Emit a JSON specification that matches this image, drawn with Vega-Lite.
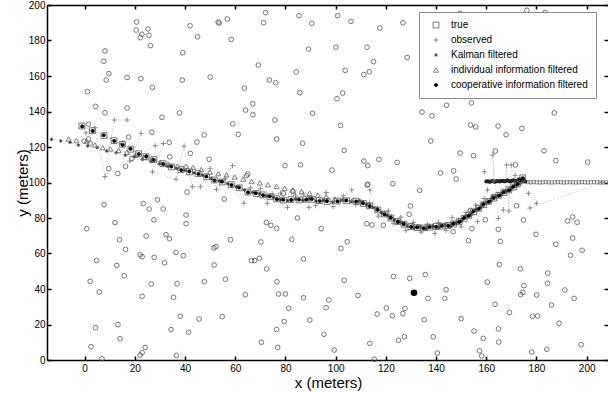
{
"$schema": "https://vega.github.io/schema/vega-lite/v6.json",
"width": 561, "height": 355,
"autosize": {"type": "none"},
"padding": {"left": 47, "top": 5, "right": 0, "bottom": 33},
"background": "white",
"config": {
  "view": {"stroke": null},
  "font": "Liberation Sans",
  "axis": {"domainColor": "black", "domainWidth": 1.5, "tickColor": "black", "tickWidth": 1.5, "tickSize": -4, "labelFont": "Liberation Sans", "labelFontSize": 10, "labelColor": "black", "titleFont": "Liberation Sans", "titleFontSize": 15, "titleFontWeight": "normal", "titleColor": "black", "grid": false}
},
"datasets": {
  "lm": [
    {"x":20.7,"y":190.4},{"x":20.5,"y":185.9},{"x":22.8,"y":183.5},{"x":22.2,"y":181.6},{"x":25.2,"y":186.5},{"x":25.6,"y":182.9},{"x":26.2,"y":177.1},{"x":8.1,"y":174.1},{"x":7.6,"y":168.3},{"x":9.7,"y":161.3},{"x":8.6,"y":157.7},{"x":16.9,"y":159.2},{"x":22.4,"y":158.5},{"x":27,"y":153.6},{"x":1.1,"y":151.2},{"x":4.4,"y":142.9},{"x":8.1,"y":139.3},{"x":16.9,"y":142},{"x":1.5,"y":132.8},{"x":30.8,"y":136.7},{"x":37.8,"y":139.2},{"x":38.9,"y":157.7},{"x":39.1,"y":173.1},{"x":42,"y":188.3},{"x":45,"y":182.1},{"x":53.2,"y":190.4},{"x":53.6,"y":189.8},{"x":56.8,"y":192.1},{"x":58.4,"y":180.6},{"x":50,"y":159.4},{"x":63.6,"y":153.2},{"x":69.2,"y":166.2},{"x":72.1,"y":195.7},{"x":71.3,"y":190},{"x":73.6,"y":157.7},{"x":76.1,"y":156.2},{"x":64.1,"y":140.8},{"x":67,"y":144.4},{"x":67,"y":138.2},{"x":75.8,"y":135.2},{"x":76.5,"y":124.5},{"x":59,"y":133.1},{"x":61.2,"y":127.1},{"x":47.6,"y":126.8},{"x":49.6,"y":113.1},{"x":26.8,"y":128.3},{"x":33.7,"y":122.6},{"x":44.7,"y":122.8},{"x":42.1,"y":116.4},{"x":33.9,"y":114.5},{"x":84.3,"y":162.3},{"x":85.7,"y":150.6},{"x":85.4,"y":194},{"x":79.8,"y":109.5},{"x":86,"y":110},{"x":65,"y":104.8},{"x":64.5,"y":103.8},{"x":40.8,"y":94.6},{"x":55.6,"y":90.7},{"x":29,"y":90.3},{"x":-0.2,"y":123.3},{"x":1.5,"y":124.5},{"x":2.2,"y":122.1},{"x":9.6,"y":107.8},{"x":13.2,"y":105.1},{"x":16.3,"y":109.1},{"x":17.5,"y":125.6},{"x":15.3,"y":122.1},{"x":18.8,"y":113.5},{"x":79.2,"y":93.9},{"x":82.9,"y":95},
    {"x":100.8,"y":194},{"x":90.5,"y":189.7},{"x":106.1,"y":190.8},{"x":117.6,"y":187},{"x":126.8,"y":190},{"x":149.6,"y":195.3},{"x":176.2,"y":197},{"x":183.4,"y":195.8},{"x":89.2,"y":175.2},{"x":100.1,"y":176.2},{"x":112.5,"y":176.2},{"x":115.1,"y":168.1},{"x":128.5,"y":170.4},{"x":103.8,"y":163.2},{"x":111.2,"y":160.8},{"x":113.4,"y":162.4},{"x":100.5,"y":147.2},{"x":102.8,"y":150.4},{"x":90.8,"y":139},{"x":101.9,"y":132.2},{"x":86.8,"y":122.1},{"x":103.4,"y":118.1},{"x":98.5,"y":107},{"x":111.2,"y":112.1},{"x":112.8,"y":109.5},{"x":117.2,"y":113},{"x":124.5,"y":111.3},{"x":112.8,"y":99},{"x":112.6,"y":98.6},{"x":122.8,"y":99.3},{"x":133.5,"y":95.6},{"x":134.4,"y":139.7},{"x":138.4,"y":137.6},{"x":144.2,"y":143.5},{"x":154.1,"y":144.8},{"x":169.7,"y":148.9},{"x":137.9,"y":123.4},{"x":153.7,"y":132.4},{"x":155.8,"y":131.3},{"x":164.7,"y":131.8},{"x":174.2,"y":130.5},{"x":167.9,"y":126.9},{"x":187.1,"y":139.2},{"x":149.6,"y":116.6},{"x":154.9,"y":115.1},{"x":141.8,"y":105.4},{"x":147,"y":106.6},{"x":148,"y":102},{"x":171.6,"y":109.9},{"x":183,"y":117.9},{"x":187.7,"y":112.3},{"x":200.4,"y":111.5},{"x":163,"y":92.2},{"x":163.6,"y":117.7},{"x":153.7,"y":84.3},
    {"x":0.8,"y":74},{"x":2.5,"y":7.5},{"x":6.9,"y":0.7},{"x":4.3,"y":18.2},{"x":2.2,"y":44.3},{"x":4.8,"y":56},{"x":5.8,"y":38.3},{"x":7.7,"y":87.5},{"x":12.1,"y":77.4},{"x":13.9,"y":67.8},{"x":16.3,"y":62.3},{"x":12.8,"y":53.3},{"x":15.8,"y":47.5},{"x":13.3,"y":19.9},{"x":14.1,"y":12},{"x":22.1,"y":2.8},{"x":22.9,"y":4.1},{"x":24.1,"y":7.1},{"x":23.4,"y":88.1},{"x":25.7,"y":85.1},{"x":31.3,"y":85.1},{"x":27.6,"y":79},{"x":24.5,"y":69.9},{"x":22.1,"y":59.2},{"x":22.9,"y":58.2},{"x":27.7,"y":57.8},{"x":31.8,"y":54.8},{"x":32.4,"y":70.6},{"x":33.8,"y":68.3},{"x":36.4,"y":60.6},{"x":39.3,"y":58.8},{"x":26.5,"y":42.8},{"x":22.9,"y":35.9},{"x":36.8,"y":43},{"x":35.4,"y":35.3},{"x":38.1,"y":24.6},{"x":34.4,"y":17.1},{"x":41.4,"y":15.6},{"x":36.5,"y":2.6},{"x":40.4,"y":81.7},{"x":40.4,"y":76.8},{"x":45.6,"y":23.1},{"x":47.7,"y":44.1},{"x":51.6,"y":53.5},{"x":51.5,"y":63.1},{"x":52.3,"y":63.9},{"x":58.1,"y":67.8},{"x":56.1,"y":45.5},{"x":54.8,"y":24.4},{"x":64,"y":36.8},{"x":66.5,"y":56},{"x":67.7,"y":56},{"x":69.6,"y":57.3},{"x":70.2,"y":66.5},{"x":72.4,"y":77.4},{"x":74.2,"y":75.9},{"x":76.5,"y":74.2},{"x":72.5,"y":51.3},{"x":76.6,"y":44.1},{"x":77.2,"y":37.2},{"x":80,"y":37.2},{"x":81.3,"y":29.1},{"x":79.5,"y":21.6},{"x":76.5,"y":17.2},{"x":70.4,"y":10},{"x":76.9,"y":7.1},{"x":82.5,"y":68},{"x":84.8,"y":80},
    {"x":87.2,"y":56.9},{"x":87.2,"y":35.1},{"x":89.7,"y":22.5},{"x":94.2,"y":74},{"x":95.3,"y":14.5},{"x":96.2,"y":29.5},{"x":97.3,"y":33.8},{"x":99.4,"y":5.6},{"x":102.1,"y":62.9},{"x":104.6,"y":66.6},{"x":103.4,"y":44.9},{"x":108.9,"y":36.4},{"x":112.4,"y":76.8},{"x":114.5,"y":76.1},{"x":119,"y":75.9},{"x":113.6,"y":9.4},{"x":115.4,"y":0.4},{"x":116.5,"y":25.9},{"x":120.2,"y":29.3},{"x":122.6,"y":25},{"x":123,"y":47.1},{"x":125,"y":11.1},{"x":126.8,"y":26.1},{"x":127.6,"y":29.1},{"x":127.4,"y":13.1},{"x":129.5,"y":46},{"x":129.3,"y":82.1},{"x":129.8,"y":86.8},{"x":135.7,"y":48.1},{"x":136.8,"y":34.7},{"x":135.3,"y":22.7},{"x":138.9,"y":13.1},{"x":140.5,"y":3.9},{"x":144,"y":39.6},{"x":143.5,"y":34.7},{"x":150,"y":23.3},{"x":146.8,"y":72.3},{"x":152.9,"y":67.2},{"x":154.3,"y":74},{"x":159.6,"y":79},{"x":155.1,"y":16.3},{"x":158.8,"y":12.2},{"x":157.3,"y":5.2},{"x":158.2,"y":2.3},{"x":160.4,"y":43.9},{"x":163.5,"y":31.4},{"x":164.8,"y":73.6},{"x":165.6,"y":66.8},{"x":165.2,"y":53.7},{"x":164.9,"y":17.5},{"x":165,"y":10.1},{"x":169.2,"y":26.8},{"x":172.1,"y":86.9},{"x":174.8,"y":78.9},{"x":173.6,"y":51.4},{"x":175,"y":41.9},{"x":174.6,"y":38.1},{"x":173.7,"y":36.8},{"x":178.4,"y":24.6},{"x":180.5,"y":24.8},{"x":178.1,"y":4.5},{"x":179.8,"y":70.8},{"x":180.1,"y":36.6},{"x":184.1,"y":6},{"x":184.4,"y":43.2},{"x":184.5,"y":49},{"x":186,"y":31},{"x":187.7,"y":65.2},{"x":189,"y":20.7},{"x":191.3,"y":39.4},{"x":192.4,"y":78.3},{"x":194.4,"y":80.6},{"x":196.2,"y":77.6},{"x":193.6,"y":59},{"x":194.4,"y":68.7},{"x":195,"y":34.7},{"x":198.2,"y":61.8},{"x":197.8,"y":8.6}
  ],
  "tgt": [{"x":131.2,"y":37.9}],
  "traj": [
    {"s":"true","x":-1.1,"y":131.8},{"s":"true","x":3.1,"y":129.2},{"s":"true","x":7.7,"y":126.4},{"s":"true","x":11.7,"y":123.6},{"s":"true","x":15.0,"y":121.5},{"s":"true","x":18.4,"y":118.8},{"s":"true","x":21.5,"y":116.2},{"s":"true","x":24.5,"y":114.5},{"s":"true","x":27.6,"y":113.0},{"s":"true","x":31.2,"y":110.6},{"s":"true","x":34.6,"y":108.8},{"s":"true","x":38.4,"y":107.2},{"s":"true","x":41.8,"y":106.0},{"s":"true","x":45.2,"y":105.0},{"s":"true","x":48.6,"y":103.2},{"s":"true","x":51.6,"y":101.4},{"s":"true","x":54.8,"y":100.3},{"s":"true","x":58.4,"y":98.8},{"s":"true","x":61.6,"y":97.0},{"s":"true","x":65.0,"y":94.6},{"s":"true","x":68.3,"y":93.8},{"s":"true","x":71.0,"y":93.0},{"s":"true","x":73.9,"y":92.0},{"s":"true","x":76.5,"y":90.8},{"s":"true","x":79.2,"y":90.1},{"s":"true","x":82.2,"y":90.4},{"s":"true","x":85.5,"y":90.2},{"s":"true","x":88.2,"y":90.6},{"s":"true","x":90.6,"y":90.5},{"s":"true","x":93.5,"y":89.8},{"s":"true","x":96.6,"y":89.3},{"s":"true","x":100.7,"y":89.6},{"s":"true","x":104.4,"y":89.7},{"s":"true","x":108.1,"y":89.5},{"s":"true","x":111.0,"y":88.2},{"s":"true","x":113.5,"y":86.9},{"s":"true","x":116.8,"y":84.5},{"s":"true","x":119.4,"y":82.2},{"s":"true","x":122.0,"y":80.0},{"s":"true","x":124.7,"y":78.0},{"s":"true","x":127.2,"y":76.5},{"s":"true","x":130.0,"y":75.2},{"s":"true","x":132.5,"y":74.6},{"s":"true","x":135.0,"y":74.4},{"s":"true","x":137.5,"y":74.8},{"s":"true","x":140.0,"y":75.2},{"s":"true","x":142.4,"y":75.4},{"s":"true","x":144.8,"y":75.8},{"s":"true","x":147.0,"y":76.6},{"s":"true","x":149.2,"y":78.0},{"s":"true","x":151.2,"y":79.8},{"s":"true","x":153.0,"y":81.5},{"s":"true","x":155.0,"y":83.5},{"s":"true","x":157.0,"y":85.5},{"s":"true","x":159.0,"y":87.5},{"s":"true","x":161.0,"y":89.4},{"s":"true","x":163.0,"y":91.2},{"s":"true","x":165.0,"y":92.8},{"s":"true","x":167.0,"y":94.3},{"s":"true","x":169.0,"y":95.8},{"s":"true","x":170.8,"y":97.4},{"s":"true","x":172.4,"y":99.2},{"s":"true","x":173.6,"y":101.0},{"s":"true","x":174.5,"y":102.6},
    {"s":"observed","x":0.5,"y":128.0},{"s":"observed","x":4.0,"y":131.0},{"s":"observed","x":8.1,"y":103.3},{"s":"observed","x":11.8,"y":135.2},{"s":"observed","x":16.9,"y":135.2},{"s":"observed","x":22.5,"y":127.7},{"s":"observed","x":18.0,"y":112.0},{"s":"observed","x":28.1,"y":120.7},{"s":"observed","x":31.4,"y":122.0},{"s":"observed","x":27.0,"y":106.0},{"s":"observed","x":36.4,"y":101.8},{"s":"observed","x":39.6,"y":120.6},{"s":"observed","x":42.9,"y":97.6},{"s":"observed","x":46.1,"y":97.6},{"s":"observed","x":50.0,"y":108.0},{"s":"observed","x":52.5,"y":96.0},{"s":"observed","x":58.9,"y":109.5},{"s":"observed","x":56.0,"y":102.0},{"s":"observed","x":63.4,"y":88.3},{"s":"observed","x":66.0,"y":97.0},{"s":"observed","x":72.8,"y":88.3},{"s":"observed","x":70.0,"y":96.5},{"s":"observed","x":75.0,"y":93.5},{"s":"observed","x":80.8,"y":86.0},{"s":"observed","x":78.0,"y":94.0},{"s":"observed","x":84.0,"y":93.0},{"s":"observed","x":89.4,"y":86.0},{"s":"observed","x":87.0,"y":93.5},{"s":"observed","x":92.0,"y":87.0},{"s":"observed","x":96.2,"y":94.3},{"s":"observed","x":99.0,"y":86.5},{"s":"observed","x":103.0,"y":92.5},{"s":"observed","x":106.4,"y":95.8},{"s":"observed","x":108.0,"y":87.5},{"s":"observed","x":113.5,"y":88.3},{"s":"observed","x":113.7,"y":95.8},{"s":"observed","x":117.0,"y":81.0},{"s":"observed","x":121.0,"y":84.0},{"s":"observed","x":123.0,"y":77.0},{"s":"observed","x":126.0,"y":80.5},{"s":"observed","x":128.0,"y":73.0},{"s":"observed","x":131.0,"y":77.5},{"s":"observed","x":134.0,"y":72.0},{"s":"observed","x":136.5,"y":76.5},{"s":"observed","x":139.5,"y":71.3},{"s":"observed","x":141.0,"y":77.5},{"s":"observed","x":144.0,"y":73.0},{"s":"observed","x":146.4,"y":80.2},{"s":"observed","x":148.8,"y":77.9},{"s":"observed","x":150.0,"y":75.0},{"s":"observed","x":152.0,"y":83.0},{"s":"observed","x":155.8,"y":87.3},{"s":"observed","x":156.5,"y":77.9},{"s":"observed","x":158.8,"y":88.3},{"s":"observed","x":159.1,"y":91.0},{"s":"observed","x":160.5,"y":95.8},{"s":"observed","x":159.2,"y":106.1},{"s":"observed","x":163.0,"y":100.8},{"s":"observed","x":162.6,"y":115.5},{"s":"observed","x":164.8,"y":79.8},{"s":"observed","x":166.8,"y":84.5},{"s":"observed","x":168.1,"y":109.9},{"s":"observed","x":169.0,"y":83.9},{"s":"observed","x":169.9,"y":109.9},{"s":"observed","x":171.5,"y":104.0},{"s":"observed","x":176.8,"y":93.9},{"s":"observed","x":180.1,"y":88.3},{"s":"observed","x":177.4,"y":85.6},{"s":"observed","x":206.0,"y":100.0},
    {"s":"Kalman filtered","x":-13.2,"y":124.3},{"s":"Kalman filtered","x":-9.5,"y":123.4},{"s":"Kalman filtered","x":-5.8,"y":122.6},{"s":"Kalman filtered","x":-2.5,"y":121.1},{"s":"Kalman filtered","x":1.2,"y":120.6},{"s":"Kalman filtered","x":5.0,"y":119.6},{"s":"Kalman filtered","x":8.8,"y":117.7},{"s":"Kalman filtered","x":12.6,"y":116.8},{"s":"Kalman filtered","x":16.2,"y":115.4},{"s":"Kalman filtered","x":19.8,"y":114.5},{"s":"Kalman filtered","x":23.0,"y":113.0},{"s":"Kalman filtered","x":26.4,"y":111.9},{"s":"Kalman filtered","x":29.8,"y":110.4},{"s":"Kalman filtered","x":33.0,"y":109.1},{"s":"Kalman filtered","x":36.6,"y":107.9},{"s":"Kalman filtered","x":40.0,"y":106.8},{"s":"Kalman filtered","x":43.6,"y":105.4},{"s":"Kalman filtered","x":47.0,"y":104.1},{"s":"Kalman filtered","x":50.4,"y":102.3},{"s":"Kalman filtered","x":53.6,"y":100.9},{"s":"Kalman filtered","x":57.0,"y":99.3},{"s":"Kalman filtered","x":60.4,"y":97.6},{"s":"Kalman filtered","x":63.6,"y":95.8},{"s":"Kalman filtered","x":67.0,"y":94.4},{"s":"Kalman filtered","x":69.8,"y":93.6},{"s":"Kalman filtered","x":72.6,"y":92.4},{"s":"Kalman filtered","x":75.3,"y":91.6},{"s":"Kalman filtered","x":78.0,"y":90.3},{"s":"Kalman filtered","x":80.8,"y":89.7},{"s":"Kalman filtered","x":84.0,"y":90.6},{"s":"Kalman filtered","x":87.0,"y":89.9},{"s":"Kalman filtered","x":89.5,"y":90.9},{"s":"Kalman filtered","x":92.2,"y":89.5},{"s":"Kalman filtered","x":95.1,"y":89.9},{"s":"Kalman filtered","x":98.8,"y":88.8},{"s":"Kalman filtered","x":102.5,"y":90.1},{"s":"Kalman filtered","x":106.2,"y":89.1},{"s":"Kalman filtered","x":109.6,"y":89.8},{"s":"Kalman filtered","x":112.3,"y":87.6},{"s":"Kalman filtered","x":115.1,"y":85.9},{"s":"Kalman filtered","x":118.2,"y":83.0},{"s":"Kalman filtered","x":120.7,"y":81.4},{"s":"Kalman filtered","x":123.4,"y":78.9},{"s":"Kalman filtered","x":126.0,"y":77.5},{"s":"Kalman filtered","x":128.6,"y":75.6},{"s":"Kalman filtered","x":131.3,"y":74.4},{"s":"Kalman filtered","x":133.8,"y":75.1},{"s":"Kalman filtered","x":136.2,"y":73.9},{"s":"Kalman filtered","x":138.8,"y":75.3},{"s":"Kalman filtered","x":141.2,"y":74.6},{"s":"Kalman filtered","x":143.6,"y":76.1},{"s":"Kalman filtered","x":145.9,"y":75.3},{"s":"Kalman filtered","x":148.1,"y":77.4},{"s":"Kalman filtered","x":150.2,"y":78.6},{"s":"Kalman filtered","x":152.1,"y":80.9},{"s":"Kalman filtered","x":154.0,"y":82.3},{"s":"Kalman filtered","x":156.0,"y":84.7},{"s":"Kalman filtered","x":158.0,"y":86.3},{"s":"Kalman filtered","x":160.0,"y":88.6},{"s":"Kalman filtered","x":162.0,"y":90.1},{"s":"Kalman filtered","x":164.0,"y":92.3},{"s":"Kalman filtered","x":166.0,"y":93.4},{"s":"Kalman filtered","x":168.0,"y":95.3},{"s":"Kalman filtered","x":169.9,"y":96.4},{"s":"Kalman filtered","x":171.6,"y":98.5},{"s":"Kalman filtered","x":173.0,"y":100.1},{"s":"Kalman filtered","x":174.1,"y":101.9},
    {"s":"individual information filtered","x":-6.4,"y":124.5},{"s":"individual information filtered","x":-3.3,"y":123.6},{"s":"individual information filtered","x":0.8,"y":123.4},{"s":"individual information filtered","x":4.1,"y":121.2},{"s":"individual information filtered","x":7.2,"y":119.6},{"s":"individual information filtered","x":10.2,"y":118.9},{"s":"individual information filtered","x":13.5,"y":118.1},{"s":"individual information filtered","x":16.8,"y":117.0},{"s":"individual information filtered","x":20.2,"y":115.4},{"s":"individual information filtered","x":23.6,"y":114.2},{"s":"individual information filtered","x":27.0,"y":112.8},{"s":"individual information filtered","x":30.1,"y":111.4},{"s":"individual information filtered","x":33.2,"y":110.4},{"s":"individual information filtered","x":36.9,"y":109.3},{"s":"individual information filtered","x":40.3,"y":109.2},{"s":"individual information filtered","x":43.2,"y":108.5},{"s":"individual information filtered","x":46.5,"y":107.3},{"s":"individual information filtered","x":49.9,"y":105.9},{"s":"individual information filtered","x":53.2,"y":105.0},{"s":"individual information filtered","x":56.5,"y":104.3},{"s":"individual information filtered","x":59.8,"y":103.1},{"s":"individual information filtered","x":63.2,"y":101.9},{"s":"individual information filtered","x":66.5,"y":100.6},{"s":"individual information filtered","x":69.8,"y":99.8},{"s":"individual information filtered","x":73.0,"y":98.8},{"s":"individual information filtered","x":76.4,"y":97.8},{"s":"individual information filtered","x":79.7,"y":96.8},{"s":"individual information filtered","x":83.0,"y":95.8},{"s":"individual information filtered","x":86.4,"y":94.9},{"s":"individual information filtered","x":89.6,"y":94.0},{"s":"individual information filtered","x":92.9,"y":92.9},{"s":"individual information filtered","x":96.2,"y":91.9},{"s":"individual information filtered","x":99.6,"y":90.8},{"s":"individual information filtered","x":103.0,"y":90.4},{"s":"individual information filtered","x":106.6,"y":89.9},{"s":"individual information filtered","x":110.0,"y":89.0},{"s":"individual information filtered","x":113.2,"y":87.4},{"s":"individual information filtered","x":116.5,"y":85.2},{"s":"individual information filtered","x":119.4,"y":83.0},{"s":"individual information filtered","x":122.1,"y":80.6},{"s":"individual information filtered","x":125.0,"y":78.4},{"s":"individual information filtered","x":127.7,"y":76.9},{"s":"individual information filtered","x":130.4,"y":75.8},{"s":"individual information filtered","x":133.2,"y":75.2},{"s":"individual information filtered","x":136.0,"y":75.0},{"s":"individual information filtered","x":138.8,"y":75.6},{"s":"individual information filtered","x":141.6,"y":75.9},{"s":"individual information filtered","x":144.2,"y":76.4},{"s":"individual information filtered","x":146.8,"y":77.2},{"s":"individual information filtered","x":149.3,"y":78.8},{"s":"individual information filtered","x":151.6,"y":80.8},{"s":"individual information filtered","x":153.8,"y":82.9},{"s":"individual information filtered","x":156.0,"y":85.1},{"s":"individual information filtered","x":158.2,"y":87.4},{"s":"individual information filtered","x":160.4,"y":89.6},{"s":"individual information filtered","x":162.6,"y":91.7},{"s":"individual information filtered","x":164.8,"y":93.4},{"s":"individual information filtered","x":167.0,"y":95.0},{"s":"individual information filtered","x":169.2,"y":96.6},{"s":"individual information filtered","x":171.2,"y":98.3},{"s":"individual information filtered","x":172.9,"y":100.2},{"s":"individual information filtered","x":174.2,"y":102.0},
    {"s":"cooperative information filtered","x":-1.0,"y":131.6},{"s":"cooperative information filtered","x":3.2,"y":129.0},{"s":"cooperative information filtered","x":7.6,"y":126.6},{"s":"cooperative information filtered","x":11.8,"y":123.4},{"s":"cooperative information filtered","x":15.1,"y":121.2},{"s":"cooperative information filtered","x":18.3,"y":119.0},{"s":"cooperative information filtered","x":21.6,"y":116.0},{"s":"cooperative information filtered","x":24.6,"y":114.7},{"s":"cooperative information filtered","x":27.5,"y":112.8},{"s":"cooperative information filtered","x":31.3,"y":110.4},{"s":"cooperative information filtered","x":34.5,"y":109.0},{"s":"cooperative information filtered","x":38.5,"y":107.0},{"s":"cooperative information filtered","x":41.7,"y":106.2},{"s":"cooperative information filtered","x":45.3,"y":104.8},{"s":"cooperative information filtered","x":48.5,"y":103.4},{"s":"cooperative information filtered","x":51.7,"y":101.2},{"s":"cooperative information filtered","x":54.7,"y":100.5},{"s":"cooperative information filtered","x":58.5,"y":98.6},{"s":"cooperative information filtered","x":61.5,"y":97.2},{"s":"cooperative information filtered","x":65.1,"y":94.4},{"s":"cooperative information filtered","x":68.2,"y":94.0},{"s":"cooperative information filtered","x":71.1,"y":92.8},{"s":"cooperative information filtered","x":73.8,"y":92.2},{"s":"cooperative information filtered","x":76.6,"y":90.6},{"s":"cooperative information filtered","x":79.1,"y":90.3},{"s":"cooperative information filtered","x":82.3,"y":90.2},{"s":"cooperative information filtered","x":85.4,"y":90.4},{"s":"cooperative information filtered","x":88.3,"y":90.4},{"s":"cooperative information filtered","x":90.5,"y":90.7},{"s":"cooperative information filtered","x":93.6,"y":89.6},{"s":"cooperative information filtered","x":96.5,"y":89.5},{"s":"cooperative information filtered","x":100.8,"y":89.4},{"s":"cooperative information filtered","x":104.3,"y":89.9},{"s":"cooperative information filtered","x":108.2,"y":89.3},{"s":"cooperative information filtered","x":110.9,"y":88.4},{"s":"cooperative information filtered","x":113.6,"y":86.7},{"s":"cooperative information filtered","x":116.7,"y":84.7},{"s":"cooperative information filtered","x":119.5,"y":82.0},{"s":"cooperative information filtered","x":121.9,"y":80.2},{"s":"cooperative information filtered","x":124.8,"y":77.8},{"s":"cooperative information filtered","x":127.1,"y":76.7},{"s":"cooperative information filtered","x":130.1,"y":75.0},{"s":"cooperative information filtered","x":132.4,"y":74.8},{"s":"cooperative information filtered","x":135.1,"y":74.2},{"s":"cooperative information filtered","x":137.4,"y":75.0},{"s":"cooperative information filtered","x":140.1,"y":75.0},{"s":"cooperative information filtered","x":142.3,"y":75.6},{"s":"cooperative information filtered","x":144.9,"y":75.6},{"s":"cooperative information filtered","x":146.9,"y":76.8},{"s":"cooperative information filtered","x":149.3,"y":77.8},{"s":"cooperative information filtered","x":151.1,"y":80.0},{"s":"cooperative information filtered","x":153.1,"y":81.3},{"s":"cooperative information filtered","x":154.9,"y":83.7},{"s":"cooperative information filtered","x":157.1,"y":85.3},{"s":"cooperative information filtered","x":158.9,"y":87.7},{"s":"cooperative information filtered","x":161.1,"y":89.2},{"s":"cooperative information filtered","x":162.9,"y":91.4},{"s":"cooperative information filtered","x":165.1,"y":92.6},{"s":"cooperative information filtered","x":166.9,"y":94.5},{"s":"cooperative information filtered","x":169.1,"y":95.6},{"s":"cooperative information filtered","x":170.7,"y":97.6},{"s":"cooperative information filtered","x":172.5,"y":99.0},{"s":"cooperative information filtered","x":173.5,"y":101.2},{"s":"cooperative information filtered","x":174.6,"y":102.4},
    {"s":"band_dark","x":160.0,"y":100.5},{"s":"band_dark","x":160.6,"y":100.7},{"s":"band_dark","x":161.2,"y":100.4},{"s":"band_dark","x":161.8,"y":100.6},{"s":"band_dark","x":162.4,"y":100.8},{"s":"band_dark","x":163.0,"y":100.5},{"s":"band_dark","x":163.6,"y":100.4},{"s":"band_dark","x":164.2,"y":100.8},{"s":"band_dark","x":164.8,"y":100.7},{"s":"band_dark","x":165.4,"y":100.5},{"s":"band_dark","x":166.0,"y":101.0},{"s":"band_dark","x":166.6,"y":100.8},{"s":"band_dark","x":167.2,"y":100.7},{"s":"band_dark","x":167.8,"y":100.9},{"s":"band_dark","x":168.4,"y":101.2},{"s":"band_dark","x":169.0,"y":100.8},{"s":"band_dark","x":169.6,"y":100.6},{"s":"band_dark","x":170.2,"y":101.0},{"s":"band_dark","x":170.8,"y":101.3},{"s":"band_dark","x":171.4,"y":101.0},{"s":"band_dark","x":172.0,"y":100.9},{"s":"band_dark","x":172.6,"y":101.4},{"s":"band_dark","x":173.2,"y":101.6},{"s":"band_dark","x":173.8,"y":101.2},{"s":"band_dark","x":174.4,"y":101.0},{"s":"band_dark","x":175.0,"y":100.8},{"s":"band_dark","x":175.6,"y":100.6},
    {"s":"band_light","x":176.5,"y":100.2},{"s":"band_light","x":177.7,"y":100.1},{"s":"band_light","x":178.9,"y":100.2},{"s":"band_light","x":180.1,"y":100.1},{"s":"band_light","x":181.3,"y":100.0},{"s":"band_light","x":182.5,"y":100.1},{"s":"band_light","x":183.7,"y":100.2},{"s":"band_light","x":184.9,"y":100.1},{"s":"band_light","x":186.1,"y":100.0},{"s":"band_light","x":187.3,"y":100.1},{"s":"band_light","x":188.5,"y":100.2},{"s":"band_light","x":189.7,"y":100.1},{"s":"band_light","x":190.9,"y":100.0},{"s":"band_light","x":192.1,"y":100.1},{"s":"band_light","x":193.3,"y":100.2},{"s":"band_light","x":194.5,"y":100.1},{"s":"band_light","x":195.7,"y":100.0},{"s":"band_light","x":196.9,"y":100.1},{"s":"band_light","x":198.1,"y":100.2},{"s":"band_light","x":199.3,"y":100.1},{"s":"band_light","x":200.5,"y":100.0},{"s":"band_light","x":201.7,"y":100.1},{"s":"band_light","x":202.9,"y":100.2},{"s":"band_light","x":204.1,"y":100.1},{"s":"band_light","x":205.3,"y":100.0},{"s":"band_light","x":206.5,"y":100.1},{"s":"band_light","x":207.7,"y":100.1}
  ]
},
"resolve": {"axis": {"x": "independent", "y": "independent"}},
"layer": [
  {
    "data": {"name": "traj"},
    "transform": [{"filter": {"field": "s", "oneOf": ["true", "observed", "Kalman filtered", "individual information filtered", "cooperative information filtered"]}}],
    "mark": {"type": "line", "stroke": "#a0a0a0", "strokeWidth": 0.7, "strokeDash": [1, 2], "clip": true},
    "encoding": {
      "x": {"field": "x", "type": "quantitative", "scale": {"domain": [-15, 208.5], "nice": false, "zero": false},
            "axis": {"orient": "bottom", "values": [0,20,40,60,80,100,120,140,160,180,200], "title": "x (meters)", "titleX": 281, "titleY": 22, "titleBaseline": "middle", "labelPadding": 7}},
      "y": {"field": "y", "type": "quantitative", "scale": {"domain": [0, 200], "nice": false, "zero": false},
            "axis": {"orient": "left", "values": [0,20,40,60,80,100,120,140,160,180,200], "title": "y (meters)", "titleX": -25, "titleY": 177.5, "titleBaseline": "middle", "labelPadding": 6}},
      "detail": {"field": "s"},
      "order": {"value": null}
    }
  },
  {
    "data": {"name": "lm"},
    "mark": {"type": "point", "shape": "circle", "size": 22, "filled": false, "stroke": "#555", "strokeWidth": 0.8, "opacity": 1},
    "encoding": {
      "x": {"field": "x", "type": "quantitative", "axis": {"orient": "top", "labels": false, "title": null, "values": [0,20,40,60,80,100,120,140,160,180,200]}},
      "y": {"field": "y", "type": "quantitative", "axis": {"orient": "right", "labels": false, "title": null, "domain": false, "values": [0,20,40,60,80,100,120,140,160,180,200]}}
    }
  },
  {
    "data": {"name": "traj"},
    "transform": [{"filter": "datum.s === 'band_light'"}],
    "mark": {"type": "point", "shape": "square", "size": 10, "filled": false, "stroke": "#666", "strokeWidth": 0.7, "opacity": 1},
    "encoding": {
      "x": {"field": "x", "type": "quantitative", "axis": null},
      "y": {"field": "y", "type": "quantitative", "axis": null}
    }
  },
  {
    "data": {"name": "traj"},
    "transform": [{"filter": "datum.s === 'band_dark'"}],
    "mark": {"type": "point", "shape": "circle", "size": 16, "filled": true, "fill": "#222", "opacity": 1},
    "encoding": {
      "x": {"field": "x", "type": "quantitative", "axis": null},
      "y": {"field": "y", "type": "quantitative", "axis": null}
    }
  },
  {
    "data": {"name": "traj"},
    "transform": [{"filter": {"field": "s", "oneOf": ["true", "observed", "Kalman filtered", "individual information filtered", "cooperative information filtered"]}}],
    "mark": {"type": "point", "strokeWidth": 0.8, "opacity": 1},
    "encoding": {
      "x": {"field": "x", "type": "quantitative", "axis": null},
      "y": {"field": "y", "type": "quantitative", "axis": null},
      "shape": {"field": "s", "type": "nominal",
        "scale": {"domain": ["true", "observed", "Kalman filtered", "individual information filtered", "cooperative information filtered"],
                  "range": ["square", "M-1,0L1,0M0,-1L0,1", "M-1,0L1,0M0,-1L0,1M-0.7,-0.7L0.7,0.7M-0.7,0.7L0.7,-0.7", "triangle-up", "circle"]},
        "legend": {"title": null, "orient": "none", "legendX": 372, "legendY": 7, "strokeColor": "#888", "fillColor": "white", "padding": 8, "labelFont": "Liberation Sans", "labelFontSize": 10, "labelColor": "black", "rowPadding": 5, "symbolOffset": 4, "labelOffset": 10, "symbolStrokeWidth": 0.8}},
      "stroke": {"field": "s", "type": "nominal",
        "scale": {"domain": ["true", "observed", "Kalman filtered", "individual information filtered", "cooperative information filtered"],
                  "range": ["#555", "#777", "#333", "#666", "#000"]},
        "legend": {"title": null, "orient": "none", "legendX": 372, "legendY": 7, "strokeColor": "#888", "fillColor": "white", "padding": 8, "labelFont": "Liberation Sans", "labelFontSize": 10, "labelColor": "black", "rowPadding": 5, "symbolOffset": 4, "labelOffset": 10, "symbolStrokeWidth": 0.8}},
      "fill": {"field": "s", "type": "nominal",
        "scale": {"domain": ["true", "observed", "Kalman filtered", "individual information filtered", "cooperative information filtered"],
                  "range": ["transparent", "transparent", "transparent", "transparent", "#000"]},
        "legend": {"title": null, "orient": "none", "legendX": 372, "legendY": 7, "strokeColor": "#888", "fillColor": "white", "padding": 8, "labelFont": "Liberation Sans", "labelFontSize": 10, "labelColor": "black", "rowPadding": 5, "symbolOffset": 4, "labelOffset": 10, "symbolStrokeWidth": 0.8}},
      "size": {"field": "s", "type": "nominal",
        "scale": {"type": "ordinal", "domain": ["true", "observed", "Kalman filtered", "individual information filtered", "cooperative information filtered"],
                  "range": [34, 28, 12, 26, 10]},
        "legend": {"title": null, "orient": "none", "legendX": 372, "legendY": 7, "strokeColor": "#888", "fillColor": "white", "padding": 8, "labelFont": "Liberation Sans", "labelFontSize": 10, "labelColor": "black", "rowPadding": 5, "symbolOffset": 4, "labelOffset": 10, "symbolStrokeWidth": 0.8}}
    }
  },
  {
    "data": {"name": "tgt"},
    "mark": {"type": "point", "shape": "circle", "size": 44, "filled": true, "fill": "#000", "opacity": 1},
    "encoding": {
      "x": {"field": "x", "type": "quantitative", "axis": null},
      "y": {"field": "y", "type": "quantitative", "axis": null}
    }
  }
]
}
